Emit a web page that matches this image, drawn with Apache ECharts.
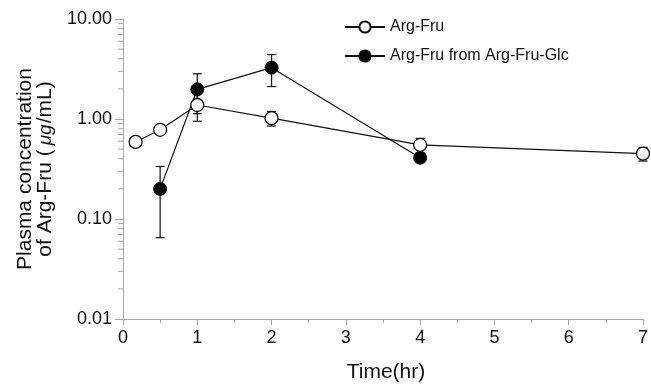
<!DOCTYPE html>
<html>
<head>
<meta charset="utf-8">
<script src="https://cdn.jsdelivr.net/npm/echarts@6/dist/echarts.min.js"></script>
<style>
  html, body { margin: 0; padding: 0; background: #fff; }
  #chart { width: 651px; height: 384px; }
</style>
</head>
<body>
<div id="chart"></div>
<script>
// Arg-Fru given directly
const timeArgFru = [0.17, 0.5, 1, 2, 4, 7];
const argFru = [0.59, 0.78, 1.38, 1.02, 0.55, 0.45];
const argFruSd = [0.04, 0.05, 0.43, 0.17, 0.09, 0.07];

// Arg-Fru appearing after Arg-Fru-Glc
const timeGlc = [0.5, 1, 2, 4];
const argFruGlc = [0.20, 1.98, 3.26, 0.41];
const argFruGlcSd = [0.135, 0.85, 1.15, 0.04];

const seriesNames = ['Arg-Fru', 'Arg-Fru from Arg-Fru-Glc'];

// log-spaced minor ticks of the y axis
const yMinorTicks = [
  0.02, 0.03, 0.04, 0.05, 0.06, 0.07, 0.08, 0.09,
  0.2, 0.3, 0.4, 0.5, 0.6, 0.7, 0.8, 0.9,
  2, 3, 4, 5, 6, 7, 8, 9
];

const font = '"Liberation Sans", Arial, sans-serif';
const axisGray = '#a8a8a8';
const ink = '#111';

function pairs(xs, ys) {
  return xs.map((x, i) => [x, ys[i]]);
}

function errItems(xs, means, sds) {
  return xs.map((x, i) => [x, means[i] - sds[i], means[i] + sds[i]]);
}

function renderErr(params, api) {
  const x = api.value(0);
  const lo = api.coord([x, api.value(1)]);
  const hi = api.coord([x, api.value(2)]);
  const w = 4.5;
  const style = { stroke: ink, lineWidth: 1.2 };
  return {
    type: 'group',
    children: [
      { type: 'line', shape: { x1: lo[0], y1: lo[1], x2: hi[0], y2: hi[1] }, style },
      { type: 'line', shape: { x1: lo[0] - w, y1: lo[1], x2: lo[0] + w, y2: lo[1] }, style },
      { type: 'line', shape: { x1: hi[0] - w, y1: hi[1], x2: hi[0] + w, y2: hi[1] }, style }
    ]
  };
}

function renderMinorTick(params, api) {
  const p = api.coord([0, api.value(1)]);
  return {
    type: 'line',
    shape: { x1: p[0] - 5, y1: p[1], x2: p[0], y2: p[1] },
    style: { stroke: axisGray, lineWidth: 1 }
  };
}

const chart = echarts.init(document.getElementById('chart'), null, { renderer: 'canvas' });

chart.setOption({
  animation: false,
  backgroundColor: '#fff',
  grid: { left: 123, right: 8, top: 19, bottom: 65, outerBoundsMode: 'none', containLabel: false },
  legend: {
    data: seriesNames,
    orient: 'vertical',
    left: 339,
    top: 14,
    itemWidth: 40,
    itemHeight: 14,
    itemGap: 13,
    textStyle: { fontFamily: font, fontSize: 16, color: ink }
  },
  xAxis: {
    type: 'value',
    min: 0,
    max: 7,
    interval: 1,
    name: 'Time(hr)',
    nameLocation: 'middle',
    nameGap: 43,
    nameTextStyle: { fontFamily: font, fontSize: 21, color: ink, padding: [0, 0, 0, 6] },
    axisLine: { lineStyle: { color: axisGray, width: 1 } },
    axisTick: { length: 6, lineStyle: { color: axisGray } },
    minorTick: { show: true, splitNumber: 2, length: 4, lineStyle: { color: axisGray } },
    axisLabel: { fontFamily: font, fontSize: 18, color: ink, margin: 10 },
    splitLine: { show: false }
  },
  yAxis: {
    type: 'log',
    logBase: 10,
    min: 0.01,
    max: 10,
    name: '{a|Plasma concentration}\n{a|of Arg-Fru (}{i|μg}{a|/mL)}',
    nameLocation: 'middle',
    nameRotate: 90,
    nameGap: 56,
    nameTextStyle: {
      fontFamily: font,
      fontSize: 21,
      color: ink,
      lineHeight: 20,
      rich: {
        a: { fontFamily: font, fontSize: 21, lineHeight: 20, color: ink },
        i: { fontFamily: font, fontSize: 19, fontStyle: 'italic', lineHeight: 20, color: ink, padding: [0, 1, 0, 4] }
      }
    },
    axisLine: { show: true, lineStyle: { color: axisGray, width: 1 } },
    axisTick: { show: true, length: 8, lineStyle: { color: axisGray } },
    axisLabel: {
      fontFamily: font,
      fontSize: 18,
      color: ink,
      margin: 11,
      formatter: v => Number(v).toFixed(2)
    },
    splitLine: { show: false }
  },
  series: [
    {
      type: 'custom',
      name: 'minor',
      clip: false,
      silent: true,
      renderItem: renderMinorTick,
      data: yMinorTicks.map(v => [0, v]),
      z: 1
    },
    {
      type: 'custom',
      name: 'errArgFru',
      renderItem: renderErr,
      data: errItems(timeArgFru, argFru, argFruSd),
      z: 2
    },
    {
      type: 'custom',
      name: 'errGlc',
      renderItem: renderErr,
      data: errItems(timeGlc, argFruGlc, argFruGlcSd),
      z: 2
    },
    {
      type: 'line',
      name: seriesNames[0],
      data: pairs(timeArgFru, argFru),
      symbol: 'circle',
      symbolSize: 13,
      lineStyle: { color: ink, width: 1.2 },
      itemStyle: { color: '#fff', borderColor: ink, borderWidth: 1.3 },
      z: 4
    },
    {
      type: 'line',
      name: seriesNames[1],
      data: pairs(timeGlc, argFruGlc),
      symbol: 'circle',
      symbolSize: 13,
      lineStyle: { color: ink, width: 1.2 },
      itemStyle: { color: '#000', borderColor: ink, borderWidth: 1 },
      z: 3
    }
  ]
});
</script>
</body>
</html>
